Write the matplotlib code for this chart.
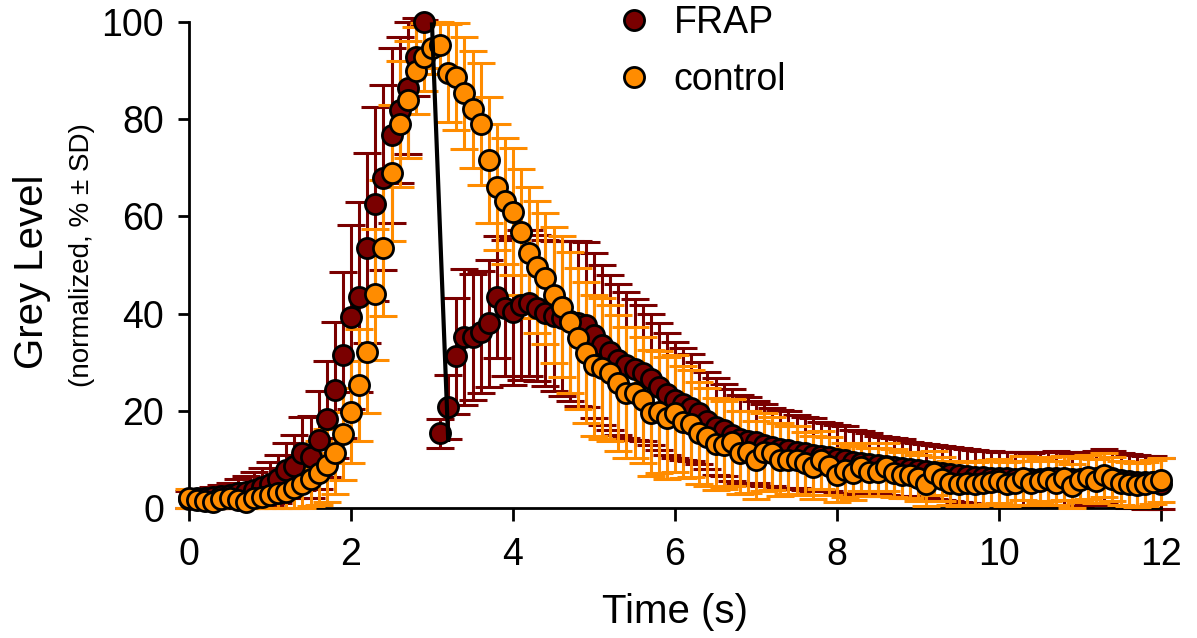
import matplotlib
matplotlib.use("Agg")
import matplotlib.pyplot as plt
import numpy as np

plt.rcParams["font.family"] = ["Liberation Sans", "DejaVu Sans"]

TIME_S = np.linspace(0, 12, 121)  # one frame every 0.1 s

CONTROL = [
    2.0, 1.6, 1.4, 1.2, 1.8, 2.0, 1.6, 1.2, 2.0, 2.3,
    2.7, 3.0, 3.3, 4.1, 4.9, 5.9, 7.2, 8.8, 11.3, 15.2,
    19.8, 25.3, 32.0, 44.0, 53.5, 69.0, 79.0, 84.0, 90.0, 92.8,
    94.6, 95.3, 89.5, 88.7, 85.4, 82.0, 79.0, 71.6, 66.0, 63.2,
    61.0, 56.8, 52.5, 49.6, 47.3, 43.8, 41.4, 38.2, 34.9, 31.9,
    29.4, 28.8, 27.8, 25.7, 23.7, 23.7, 22.2, 19.5, 19.8, 18.5,
    19.5, 17.7, 17.3, 15.4, 14.6, 13.2, 13.0, 13.5, 11.4, 11.5,
    9.9, 11.5, 11.3, 9.9, 9.9, 9.9, 9.2, 8.4, 9.9, 8.6,
    6.8, 7.8, 7.2, 8.4, 7.4, 7.4, 8.4, 7.2, 6.8, 6.8,
    6.2, 4.9, 7.2, 6.0, 5.1, 4.9, 5.2, 5.0, 5.1, 5.3,
    5.6, 4.9, 5.2, 6.2, 5.1, 5.6, 6.0, 5.2, 6.2, 4.6,
    5.8, 6.4, 5.6, 6.8, 5.9, 5.1, 4.9, 4.7, 4.9, 5.3,
    5.8,
]
CONTROL_SD = [
    2.0, 1.6, 1.4, 1.2, 1.8, 2.0, 1.6, 1.2, 2.0, 2.3,
    2.7, 3.0, 3.3, 4.1, 4.8, 5.5, 6.5, 7.5, 8.5, 9.5,
    10.5, 11.5, 12.5, 13.5, 14.0, 14.0, 13.0, 12.0, 9.0, 7.0,
    5.4, 4.7, 10.0, 11.0, 11.5, 12.0, 12.5, 13.0, 13.0, 13.0,
    13.0, 13.0, 13.5, 13.5, 13.5, 14.0, 14.5, 14.5, 14.5, 14.5,
    14.5, 14.5, 14.0, 14.0, 13.5, 13.5, 13.0, 13.0, 12.5, 12.5,
    12.0, 11.5, 11.0, 10.5, 10.0, 9.5, 9.0, 9.0, 8.5, 8.5,
    8.0, 8.0, 7.5, 7.5, 7.0, 7.0, 6.5, 6.5, 6.0, 6.0,
    5.5, 5.5, 5.5, 5.0, 5.0, 5.0, 5.0, 5.0, 4.8, 4.8,
    4.8, 4.5, 4.5, 4.5, 4.5, 4.5, 4.5, 4.5, 4.5, 4.5,
    4.5, 4.5, 4.5, 4.5, 4.5, 4.5, 4.5, 4.5, 4.5, 4.5,
    4.5, 4.5, 4.5, 4.5, 4.5, 4.5, 4.5, 4.5, 4.5, 4.5,
    4.5,
]
FRAP = [
    1.8, 2.0, 2.0, 2.2, 2.4, 2.6, 3.0, 3.3, 3.8, 4.3,
    5.0, 6.0, 7.8, 8.6, 11.3, 10.5, 14.0, 18.3, 24.3, 31.5,
    39.3, 43.4, 53.5, 62.5, 68.0, 76.7, 81.9, 86.4, 92.8, 100.0,
    np.nan, 15.4, 20.8, 31.3, 35.2, 35.2, 36.2, 38.0, 43.4, 41.1,
    40.3, 41.8, 42.2, 41.1, 40.1, 39.5, 39.0, 38.5, 38.0, 37.7,
    35.5, 33.5, 32.0, 30.5, 29.5, 28.5, 27.8, 26.5, 25.0, 23.5,
    22.2, 21.4, 20.6, 19.5, 18.0, 16.7, 16.0, 15.0, 14.2, 13.8,
    13.6, 13.0, 12.6, 12.2, 11.9, 11.6, 11.3, 11.0, 10.7, 10.4,
    10.0, 9.8, 9.5, 9.3, 9.0, 8.8, 8.6, 8.4, 8.2, 8.0,
    7.8, 7.6, 7.4, 7.2, 7.0, 6.8, 6.6, 6.4, 6.3, 6.2,
    6.1, 6.1, 6.0, 6.0, 5.9, 6.0, 6.1, 6.2, 6.0, 5.9,
    6.0, 6.1, 6.2, 6.6, 6.2, 5.8, 5.6, 5.4, 5.3, 5.3,
    5.0,
]
FRAP_SD = [
    1.8, 2.0, 2.0, 2.2, 2.4, 2.6, 3.0, 3.3, 3.6, 4.0,
    4.5, 5.0, 5.5, 6.5, 7.5, 8.5, 10.0, 12.0, 14.0, 17.0,
    19.0, 19.5, 19.5, 20.0, 19.0, 18.0, 15.0, 13.5, 8.0, 0.5,
    np.nan, 3.0, 6.5, 12.0, 14.0, 13.0, 12.5, 13.0, 12.5, 14.0,
    15.0, 15.5, 15.0, 15.0, 15.0, 15.5, 16.0, 16.5, 17.0, 17.0,
    17.0, 16.5, 16.0, 15.5, 15.0, 14.5, 14.0, 13.5, 13.0, 12.5,
    12.0, 11.5, 11.0, 10.5, 10.0, 10.0, 9.5, 9.5, 9.0, 9.0,
    8.5, 8.5, 8.0, 8.0, 8.0, 7.5, 7.5, 7.5, 7.0, 7.0,
    7.0, 7.0, 6.5, 6.5, 6.5, 6.0, 6.0, 6.0, 6.0, 5.5,
    5.5, 5.5, 5.5, 5.5, 5.5, 5.5, 5.5, 5.5, 5.5, 5.5,
    5.5, 5.5, 5.5, 5.5, 5.5, 5.5, 5.5, 5.5, 5.5, 5.5,
    5.5, 5.5, 5.5, 5.5, 5.5, 5.5, 5.5, 5.5, 5.5, 5.5,
    5.2,
]
# bleach drop drawn as a black stroke
BLEACH_T = [3.0, 3.2]
BLEACH_V = [99.5, 14.0]

FRAP_COLOR = "#7a0000"
CONTROL_COLOR = "#ff8c00"


def draw_series(ax, y, sd, color, label, z):
    eb = ax.errorbar(TIME_S, y, yerr=sd, fmt="none", ecolor=color,
                     elinewidth=2.2, capsize=10, capthick=2.2, zorder=z)
    for a in list(eb.lines[1]) + list(eb.lines[2]):
        a.set_clip_on(False)
    (pts,) = ax.plot(TIME_S, y, "o", ms=14.5, mfc=color, mec="black", mew=2,
                     label=label, zorder=z + 2, clip_on=False)
    return pts


def main():
    fig = plt.figure(figsize=(11.97, 6.38), dpi=100)
    ax = fig.add_axes([189 / 1197, 1 - 508 / 638, 972 / 1197, 486 / 638])

    h_frap = draw_series(ax, FRAP, FRAP_SD, FRAP_COLOR, "FRAP", 2)
    h_ctrl = draw_series(ax, CONTROL, CONTROL_SD, CONTROL_COLOR, "control", 3)
    ax.plot(BLEACH_T, BLEACH_V, color="black", lw=3, zorder=10, clip_on=False)

    ax.set_xlim(0, 12)
    ax.set_ylim(0, 100)
    ax.set_xticks([0, 2, 4, 6, 8, 10, 12])
    ax.set_yticks([0, 20, 40, 60, 80, 100])
    for s in ("top", "right"):
        ax.spines[s].set_visible(False)
    for s in ("left", "bottom"):
        ax.spines[s].set_linewidth(2)
    ax.tick_params(axis="both", direction="out", width=2, labelsize=27)
    ax.tick_params(axis="y", length=8, pad=10)
    ax.tick_params(axis="x", length=9, pad=12)

    ax.set_xlabel("Time (s)", fontsize=29, labelpad=14)
    fig.text(32 / 1197, 1 - 272 / 638, "Grey Level", rotation=90,
             ha="center", va="center", fontsize=29)
    fig.text(82 / 1197, 1 - 255 / 638, "(normalized, % \u00b1 SD)", rotation=90,
             ha="center", va="center", fontsize=20)

    ax.legend(handles=[h_frap, h_ctrl], loc="upper left", frameon=False,
              bbox_to_anchor=(608 / 1197, 1 - 5 / 638), bbox_transform=fig.transFigure,
              fontsize=27, handlelength=1.4, handletextpad=0.35,
              labelspacing=0.55, borderaxespad=0, borderpad=0)

    fig.savefig("out.png", dpi=100)


if __name__ == "__main__":
    main()
